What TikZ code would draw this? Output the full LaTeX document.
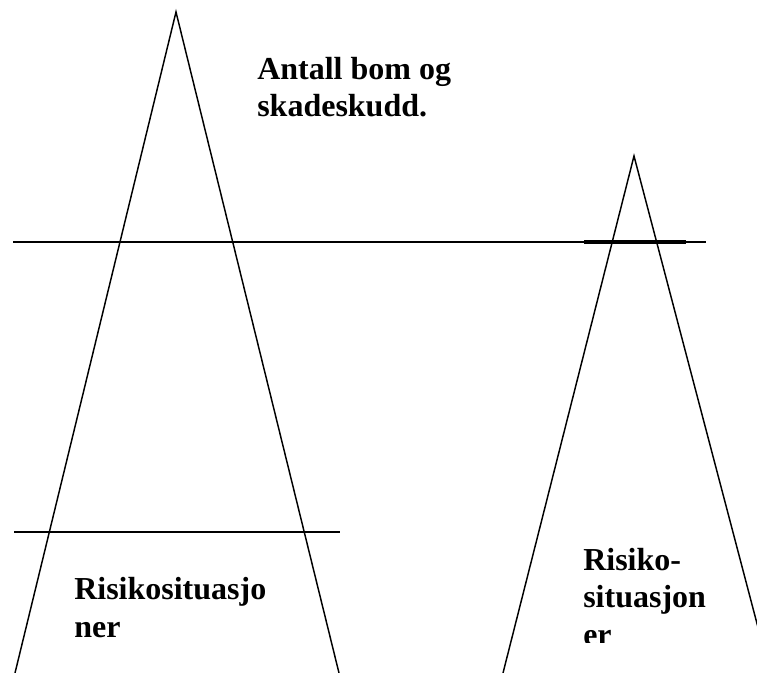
\documentclass[tikz,border=0pt]{standalone}
\usepackage{fontspec}
\setmainfont{Liberation Serif}
\begin{document}
\begin{tikzpicture}[x=0.75pt,y=-0.75pt,
  leg/.style={line width=1.1pt,line join=miter},
  rule/.style={line width=0.9pt},
  thickrule/.style={line width=2.4pt},
  lbl/.style={anchor=base west,inner sep=0pt,align=left,
    font=\fontsize{24pt}{28pt}\selectfont\bfseries}]
\useasboundingbox (0,0) rectangle (757,673);
\clip (0,0) rectangle (757,673);
% left triangle
\coordinate (LA) at (176,12);
\coordinate (LB) at (15,673);
\coordinate (LC) at (339,673);
% right triangle
\coordinate (RA) at (634,156);
\coordinate (RB) at (503,673);
\coordinate (RC) at (770,673);
% horizontal lines
\coordinate (H1a) at (13,242);
\coordinate (H1b) at (706,242);
\coordinate (H2a) at (14,532);
\coordinate (H2b) at (340,532);
\coordinate (H3a) at (584,242);
\coordinate (H3b) at (686,242);
\draw[leg] (LB) -- (LA) -- (LC);
\draw[leg] (RB) -- (RA) -- (RC);
\draw[rule] (H1a) -- (H1b);
\draw[rule] (H2a) -- (H2b);
\draw[thickrule] (H3a) -- (H3b);
\node[lbl] (t1) at (257,117) {Antall bom og\\skadeskudd.};
\node[lbl] (t2) at (74,637) {Risikosituasjo\\ner};
\begin{scope}
\clip (560,520) rectangle (720,642);
\node[lbl] (t3) at (583,645) {Risiko-\\situasjon\\er};
\end{scope}
\end{tikzpicture}
\end{document}
